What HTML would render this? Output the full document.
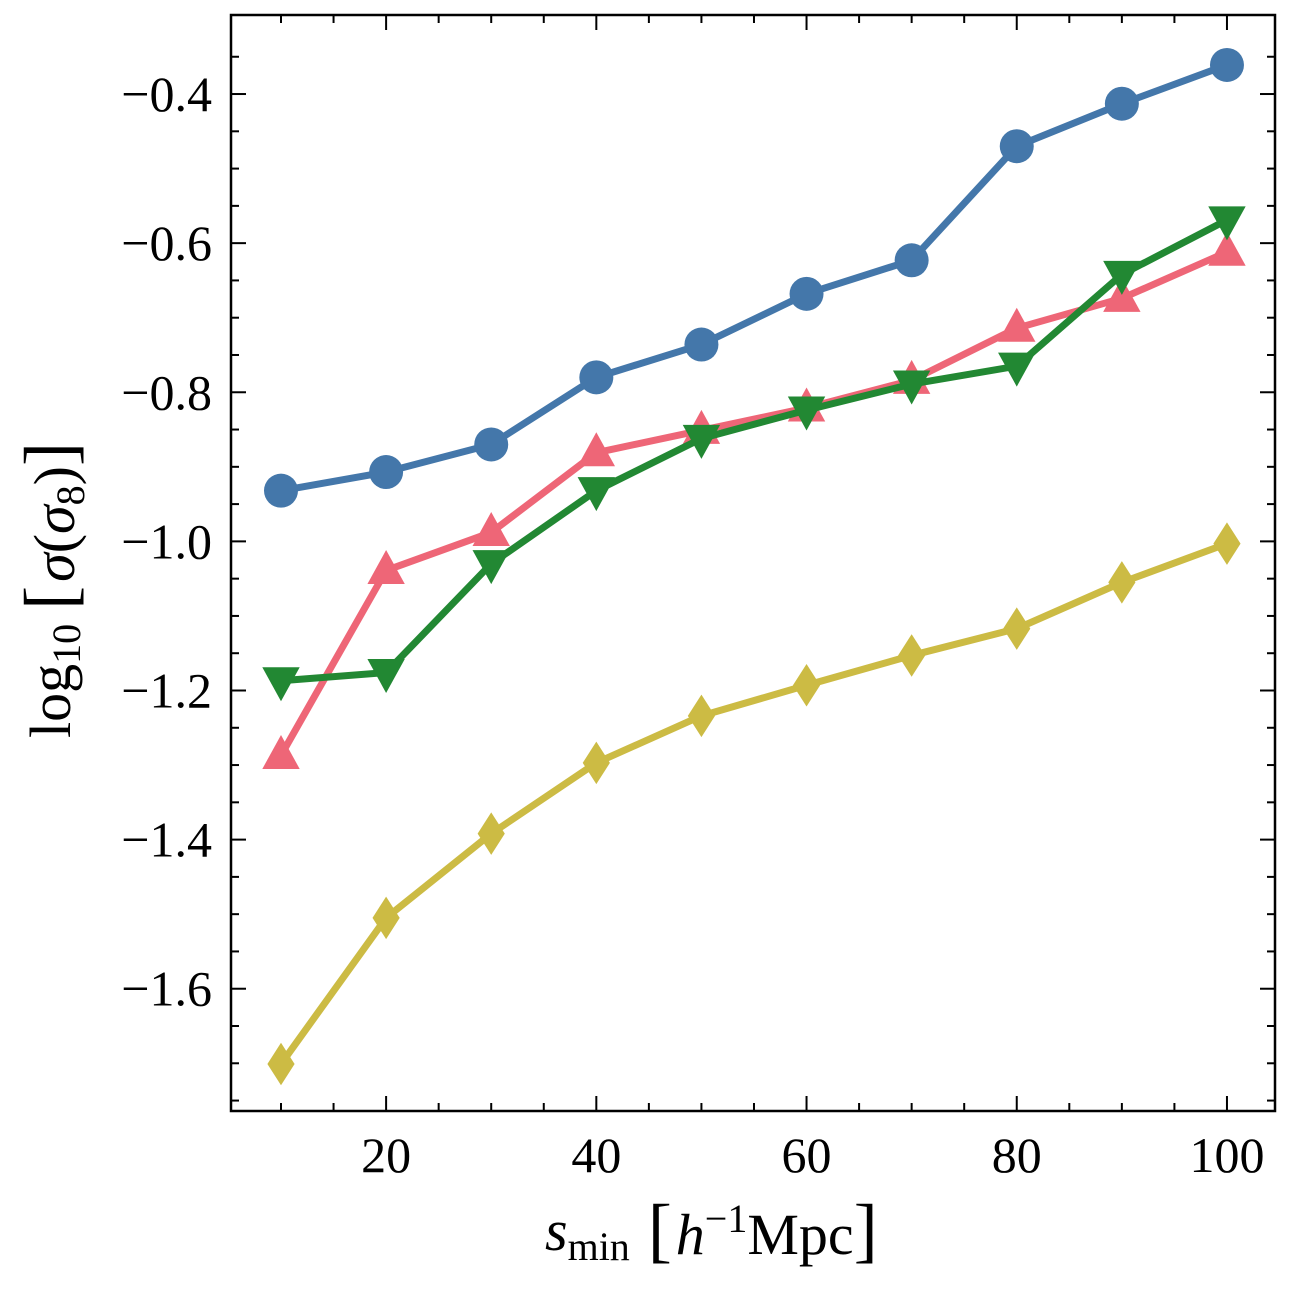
<!DOCTYPE html>
<html><head><meta charset="utf-8"><style>
html,body{margin:0;padding:0;background:#fff;}
svg text{font-family:"Liberation Serif",serif;fill:#000;}
</style></head><body>
<svg id="chart" width="1290" height="1290" viewBox="0 0 1290 1290" xmlns="http://www.w3.org/2000/svg">
<g id="series"></g>
<g id="axes"></g>
<text x="545" y="1250" font-size="58" font-style="italic">s<tspan font-style="normal" font-size="40" dy="10">min</tspan><tspan font-style="normal" font-size="72" dy="-6" dx="18">[</tspan><tspan font-size="58" dx="4">h</tspan><tspan font-style="normal" font-size="40" dy="-22">−1</tspan><tspan font-style="normal" dy="22">Mpc</tspan><tspan font-style="normal" font-size="72">]</tspan></text>
<text transform="translate(70,738) rotate(-90)" font-size="58">log<tspan font-size="40" dy="10">10</tspan><tspan font-size="72" dy="-6" dx="14">[</tspan><tspan font-style="italic" dx="4">σ</tspan>(<tspan font-style="italic">σ</tspan><tspan font-size="40" dy="10">8</tspan><tspan dy="-10">)</tspan><tspan font-size="72">]</tspan></text>
</svg>
<script>
const categories=[10,20,30,40,50,60,70,80,90,100];
const blueValues=[-0.932,-0.907,-0.870,-0.780,-0.736,-0.668,-0.623,-0.470,-0.413,-0.361];
const pinkValues=[-1.287,-1.039,-0.988,-0.881,-0.851,-0.821,-0.784,-0.714,-0.674,-0.612];
const greenValues=[-1.187,-1.176,-1.030,-0.932,-0.862,-0.824,-0.789,-0.765,-0.642,-0.569];
const yellowValues=[-1.701,-1.505,-1.392,-1.297,-1.234,-1.193,-1.153,-1.117,-1.055,-1.003];
const xTicks=[20,40,60,80,100];
const yTicks=[-0.4,-0.6,-0.8,-1.0,-1.2,-1.4,-1.6];
const yTickLabels=["−0.4","−0.6","−0.8","−1.0","−1.2","−1.4","−1.6"];

const L=231,R=1275,T=15,B=1111;
const xMin=5.243,xMax=104.57,yMin=-1.764,yMax=-0.294;
const sx=v=>L+(v-xMin)/(xMax-xMin)*(R-L);
const sy=v=>B-(v-yMin)/(yMax-yMin)*(B-T);
const NS="http://www.w3.org/2000/svg";
function mk(tag,attrs,parent){const e=document.createElementNS(NS,tag);for(const k in attrs)e.setAttribute(k,attrs[k]);parent.appendChild(e);return e;}
const sg=document.getElementById('series'),ag=document.getElementById('axes');

function marker(shape,x,y,color,g){
  let e;const r=17;
  if(shape==='circle') e=mk('circle',{cx:x,cy:y,r:r,fill:color},g);
  else if(shape==='up') e=mk('polygon',{points:`${x},${y-r*1.2} ${x-r*1.1},${y+r*0.8} ${x+r*1.1},${y+r*0.8}`,fill:color},g);
  else if(shape==='down') e=mk('polygon',{points:`${x},${y+r*1.2} ${x-r*1.1},${y-r*0.8} ${x+r*1.1},${y-r*0.8}`,fill:color},g);
  else e=mk('polygon',{points:`${x},${y-r*1.25} ${x-r*0.8},${y} ${x},${y+r*1.25} ${x+r*0.8},${y}`,fill:color},g);
  return e;
}
const series=[[blueValues,'#4477AA','circle','blue'],[pinkValues,'#EE6677','up','pink'],[greenValues,'#228833','down','green'],[yellowValues,'#CCBB44','diamond','yellow']];
series.forEach(([vals,color,shape,nm])=>{
  const g=mk('g',{},sg);
  
  
  const pl=mk('polyline',{points:vals.map((v,i)=>sx(categories[i])+','+sy(v)).join(' '),fill:'none',stroke:color,'stroke-width':7,'stroke-linejoin':'round'},g);
  
  
  vals.forEach((v,i)=>{
    const m=marker(shape,sx(categories[i]),sy(v),color,g);
    
    
  });
});

const frame=mk('rect',{x:L,y:T,width:R-L,height:B-T,fill:'none',stroke:'#000','stroke-width':2.5},ag);


for(let v=10;v<=xMax;v+=5){
  const major=xTicks.includes(v);const len=major?15:8;const x=sx(v);
  mk('line',{x1:x,x2:x,y1:B,y2:B-len,stroke:'#000','stroke-width':2},ag);
  mk('line',{x1:x,x2:x,y1:T,y2:T+len,stroke:'#000','stroke-width':2},ag);
}
xTicks.forEach(v=>{
  const t=mk('text',{x:sx(v),y:1172,'font-size':50,'text-anchor':'middle'},ag);t.textContent=v;
  
  
});
for(let k=-35;k>=-176;k-=5){
  const v=k/100;const major=(k%20===0);const len=major?15:8;const y=sy(v);
  mk('line',{x1:L,x2:L+len,y1:y,y2:y,stroke:'#000','stroke-width':2},ag);
  mk('line',{x1:R,x2:R-len,y1:y,y2:y,stroke:'#000','stroke-width':2},ag);
}
yTicks.forEach((v,i)=>{
  const t=mk('text',{x:212,y:sy(v)+17,'font-size':50,'text-anchor':'end'},ag);t.textContent=yTickLabels[i];
  
  
});
</script>
</body></html>
